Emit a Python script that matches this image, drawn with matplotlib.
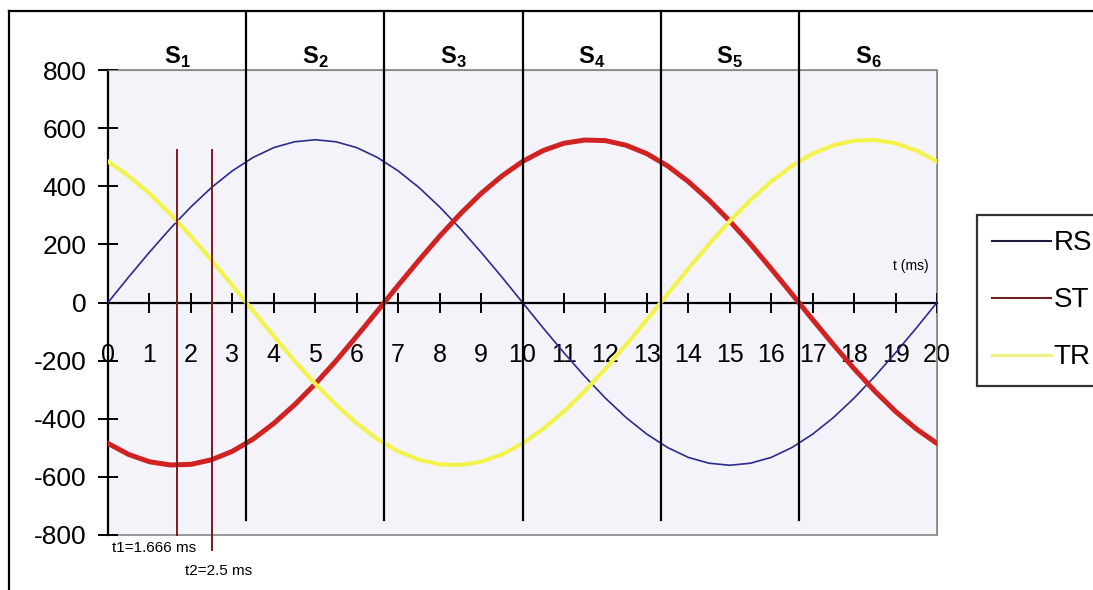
import matplotlib.pyplot as plt
from matplotlib.lines import Line2D
from matplotlib.patches import Rectangle

plt.rcParams['font.family'] = ['Liberation Sans Narrow', 'Liberation Sans', 'DejaVu Sans']
plt.rcParams['axes.unicode_minus'] = False
plt.rcParams['mathtext.fontset'] = 'custom'
plt.rcParams['mathtext.rm'] = 'Liberation Sans'
plt.rcParams['mathtext.bf'] = 'Liberation Sans:bold'

# tiempo en ms, cada 0.5 ms
t = [i * 0.5 for i in range(41)]

# tensiones de linea (V)
rs = [0, 88, 173, 254, 329, 396, 453, 499, 533, 553, 560, 553, 533, 499, 453, 396, 329, 254, 173, 88,
      0, -88, -173, -254, -329, -396, -453, -499, -533, -553, -560, -553, -533, -499, -453, -396, -329, -254, -173, -88, 0]
st = [-485, -523, -548, -559, -557, -541, -512, -470, -416, -352, -280, -201, -116, -29, 59, 145, 228, 305, 375, 435,
      485, 523, 548, 559, 557, 541, 512, 470, 416, 352, 280, 201, 116, 29, -59, -145, -228, -305, -375, -435, -485]
tr = [485, 435, 375, 305, 228, 145, 59, -29, -116, -201, -280, -352, -416, -470, -512, -541, -557, -559, -548, -523,
      -485, -435, -375, -305, -228, -145, -59, 29, 116, 201, 280, 352, 416, 470, 512, 541, 557, 559, 548, 523, 485]

# limites de los sectores S1..S6
sectores = [3.333, 6.667, 10, 13.333, 16.667]
centros = [1.667, 5, 8.333, 11.667, 15, 18.333]
nombres = ['1', '2', '3', '4', '5', '6']

t1 = 1.666
t2 = 2.5

fig = plt.figure(figsize=(10.93, 5.90), dpi=100)
ax = fig.add_axes([108 / 1093, 55 / 590, 829 / 1093, 465 / 590])
ax.set_facecolor('#f4f3fa')

ax.plot(t, rs, color='#2c2c8a', linewidth=1.2, zorder=3)
ax.plot(t, st, color='#d12222', linewidth=3.6, zorder=3)
ax.plot(t, tr, color='#f3f34e', linewidth=3, zorder=3)

ax.set_xlim(0, 20)
ax.set_ylim(-800, 800)
ax.set_xticks(range(0, 21))
ax.set_yticks(range(-800, 801, 200))

# eje de tiempo en cero
ax.spines['bottom'].set_position(('data', 0))
ax.spines['bottom'].set_linewidth(1.6)
ax.spines['left'].set_linewidth(1.6)
ax.spines['top'].set_color('#888888')
ax.spines['right'].set_color('#888888')
ax.add_patch(Rectangle((0, 0), 1, 1, transform=ax.transAxes, fill=False,
                       edgecolor='#888888', linewidth=1.2, clip_on=False, zorder=1))
ax.tick_params(axis='x', direction='inout', length=15, width=1.4, pad=22, labelsize=18)
ax.tick_params(axis='y', direction='inout', length=15, width=1.4, pad=8, labelsize=19)

# lineas de sector
for x in sectores:
    ax.plot([x, x], [-750, 1000], color='black', linewidth=1.6, clip_on=False, zorder=4)
for x, n in zip(centros, nombres):
    ax.text(x, 845, r'$\mathbf{S}_{\mathbf{' + n + '}}$', ha='center', va='center', fontsize=17)

# instantes t1 y t2
ax.plot([t1, t1], [525, -800], color='#7a1c1c', linewidth=1.4, clip_on=False, zorder=4)
ax.plot([t2, t2], [525, -850], color='#7a1c1c', linewidth=1.4, clip_on=False, zorder=4)
ax.text(0.1, -845, 't1=1.666 ms', fontsize=11, va='center', ha='left')
ax.text(1.85, -925, 't2=2.5 ms', fontsize=11, va='center', ha='left')
ax.text(19.8, 125, 't (ms)', fontsize=10, va='center', ha='right')

# marco exterior
fig.add_artist(Line2D([9 / 1093, 9 / 1093], [0, 1 - 11 / 590], color='black', linewidth=1.6))
fig.add_artist(Line2D([9 / 1093, 1], [1 - 11 / 590, 1 - 11 / 590], color='black', linewidth=1.6))

handles = [Line2D([], [], color='#1c1c3c', linewidth=1.5),
           Line2D([], [], color='#6e2020', linewidth=1.5),
           Line2D([], [], color='#eef28c', linewidth=2.5)]
leg = fig.legend(handles, ['RS', 'ST', 'TR'], loc='upper left',
                 bbox_to_anchor=(977 / 1093, 1 - 215 / 590), fontsize=20,
                 frameon=True, fancybox=False, edgecolor='black', handlelength=2.1,
                 handletextpad=0.1, labelspacing=1.12, borderpad=0.55, borderaxespad=0)
leg.get_frame().set_linewidth(1.6)

fig.savefig('out.png', dpi=100, facecolor='white')
